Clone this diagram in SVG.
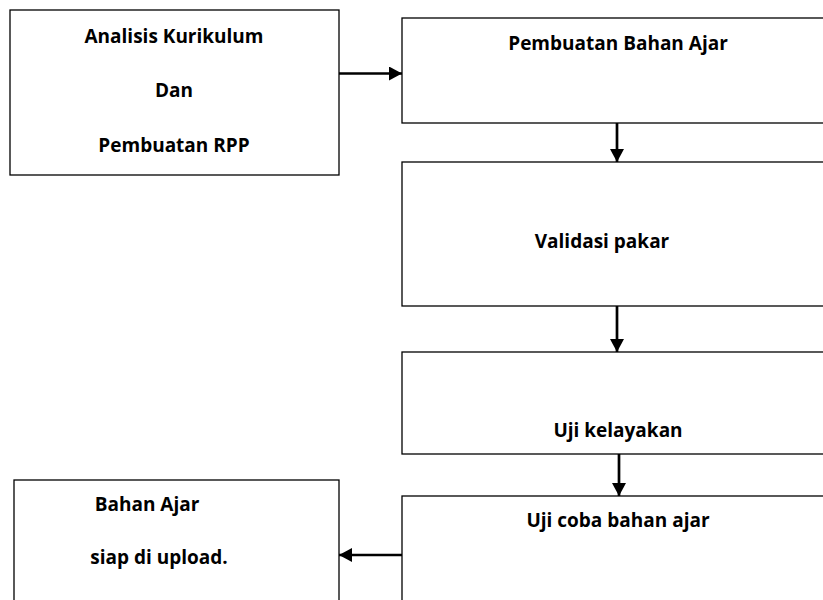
<svg xmlns="http://www.w3.org/2000/svg" width="823" height="600" viewBox="0 0 823 600">
<defs>
<style>
.box{fill:#fff;stroke:#000;stroke-width:1.3}
.t{font-family:"Open Sans","Noto Sans","Liberation Sans",sans-serif;font-weight:bold;font-size:19px;fill:#000}
.c{stroke:#000;stroke-width:2.7;fill:none}
</style>
<marker id="ah" viewBox="0 0 13 14" refX="13" refY="7" markerWidth="13" markerHeight="14" markerUnits="userSpaceOnUse" orient="auto">
<path d="M0,0 L13,7 L0,14 z" fill="#000"/>
</marker>
</defs>
<rect width="823" height="600" fill="#fff"/>
<g id="node-analisis">
<rect class="box" x="10" y="10" width="329" height="165"/>
<text class="t" x="174" y="43" text-anchor="middle">Analisis Kurikulum</text>
<text class="t" x="174" y="97" text-anchor="middle">Dan</text>
<text class="t" x="174" y="152" text-anchor="middle">Pembuatan RPP</text>
</g>
<g id="node-pembuatan">
<rect class="box" x="402" y="18" width="432" height="105"/>
<text class="t" x="618" y="50" text-anchor="middle">Pembuatan Bahan Ajar</text>
</g>
<g id="node-validasi">
<rect class="box" x="402" y="162" width="432" height="144"/>
<text class="t" x="602" y="248" text-anchor="middle">Validasi pakar</text>
</g>
<g id="node-kelayakan">
<rect class="box" x="402" y="352" width="432" height="102"/>
<text class="t" x="618" y="437" text-anchor="middle">Uji kelayakan</text>
</g>
<g id="node-ujicoba">
<rect class="box" x="402" y="496" width="432" height="120"/>
<text class="t" x="618" y="527" text-anchor="middle">Uji coba bahan ajar</text>
</g>
<g id="node-siap">
<rect class="box" x="14" y="480" width="325" height="136"/>
<text class="t" x="147" y="511" text-anchor="middle">Bahan Ajar</text>
<text class="t" x="159" y="564" text-anchor="middle">siap di upload.</text>
</g>
<g id="connectors">
<line class="c" x1="339" y1="73.5" x2="402" y2="73.5" marker-end="url(#ah)"/>
<line class="c" x1="617" y1="123" x2="617" y2="162" marker-end="url(#ah)"/>
<line class="c" x1="617" y1="306" x2="617" y2="352" marker-end="url(#ah)"/>
<line class="c" x1="619" y1="454" x2="619" y2="496" marker-end="url(#ah)"/>
<line class="c" x1="402" y1="555" x2="339" y2="555" marker-end="url(#ah)"/>
</g>
</svg>
